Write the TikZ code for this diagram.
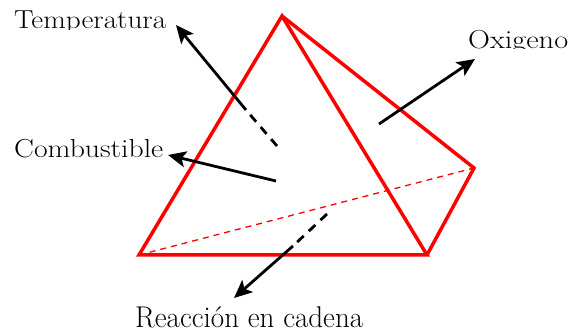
\documentclass[tikz,border=0pt]{standalone}
\usetikzlibrary{arrows.meta}
\begin{document}
\begin{tikzpicture}[x=1pt,y=-1pt,
  face/.style={draw=red,line width=3.5pt,line join=miter},
  hidden/.style={draw=red,line width=1.3pt,dash pattern=on 6pt off 5pt},
  ray/.style={draw=black,line width=2.8pt,-{Stealth[length=18pt,width=16pt,inset=4pt]}},
  rayhid/.style={draw=black,line width=2.8pt,dash pattern=on 9pt off 7pt},
  lbl/.style={font=\fontsize{26}{28}\selectfont,inner sep=0pt},
  biglbl/.style={font=\fontsize{30}{32}\selectfont,inner sep=0pt}]
\useasboundingbox (0,0) rectangle (571,336);
% vertices
\coordinate (A) at (282,16);
\coordinate (B) at (139,255);
\coordinate (C) at (427,255);
\coordinate (D) at (474,168);
\draw[hidden] (B) -- (D);
\draw[face] (A) -- (B) -- (C) -- cycle;
\draw[face] (A) -- (D) -- (C);
% labels (clipped as in the original)
\begin{scope}
\clip (0,0) rectangle (200,30);
\node[lbl,anchor=base west] (temp) at (14,29) {\resizebox{152pt}{\height}{Temperatura}};
\end{scope}
\begin{scope}
\clip (0,130) rectangle (200,158);
\node[lbl,anchor=base west] (comb) at (14,158) {\resizebox{149pt}{\height}{Combustible}};
\end{scope}
\begin{scope}
\clip (440,20) rectangle (571,49);
\node[lbl,anchor=base west] (oxi) at (468,49) {\resizebox{100pt}{\height}{Oxigeno}};
\end{scope}
\node[biglbl,anchor=base west] (reac) at (135,328) {\resizebox{228pt}{\height}{Reacción en cadena}};
% arrows
\coordinate (t0) at (277,146);
\coordinate (t1) at (246,110);
\coordinate (t2) at (176,25);
\draw[rayhid] (t0) -- (t1);
\draw[ray] (t1) -- (t2);
\coordinate (c0) at (276,181);
\coordinate (c1) at (168,155);
\draw[ray] (c0) -- (c1);
\coordinate (o0) at (379,124);
\coordinate (o1) at (475,59);
\draw[ray] (o0) -- (o1);
\coordinate (r0) at (327,214);
\coordinate (r1) at (293,246);
\coordinate (r2) at (234,298);
\draw[rayhid] (r0) -- (r1);
\draw[ray] (r1) -- (r2);
\end{tikzpicture}
\end{document}
